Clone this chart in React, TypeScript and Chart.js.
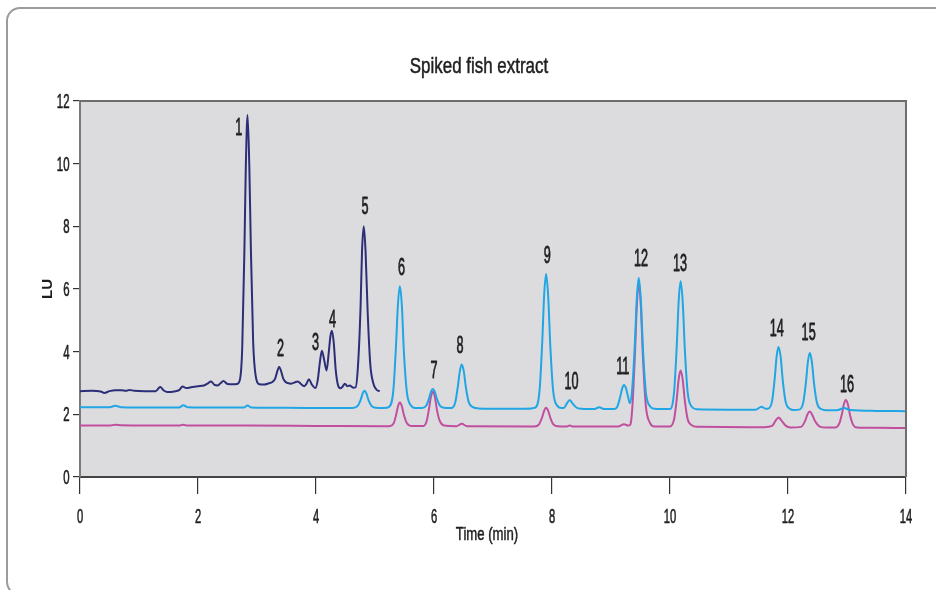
import React, { useEffect, useRef } from "react";
import { Chart, registerables } from "chart.js";

Chart.register(...registerables);

// ---- data (time in min, signal in LU) ----
const chartTitle = "Spiked fish extract";
const xAxisTitle = "Time (min)";
const yAxisTitle = "LU";

const navyTrace: [number, number][] = [
  [0, 2.74], [0.2, 2.75], [0.35, 2.73], [0.41, 2.68], [0.5, 2.74], [0.6, 2.77], [0.7, 2.77], [0.78, 2.75],
  [0.84, 2.78], [0.92, 2.75], [1.1, 2.74], [1.28, 2.74], [1.36, 2.87], [1.42, 2.76], [1.48, 2.71], [1.6, 2.73],
  [1.68, 2.77], [1.74, 2.89], [1.8, 2.84], [1.9, 2.87], [2.0, 2.9], [2.1, 2.92], [2.16, 2.98], [2.22, 3.05],
  [2.28, 2.94], [2.33, 2.92], [2.38, 2.99], [2.43, 3.06], [2.5, 2.97], [2.6, 2.96], [2.66, 2.97], [2.71, 3.1],
  [2.75, 4.14], [2.787, 7.28], [2.81, 9.86], [2.84, 11.55], [2.87, 9.9], [2.895, 7.4], [2.935, 4.3], [2.98, 3.2],
  [3.04, 2.96], [3.12, 2.95], [3.2, 2.99], [3.26, 3.03], [3.31, 3.15], [3.345, 3.38], [3.375, 3.52], [3.405, 3.4],
  [3.445, 3.14], [3.5, 3.01], [3.58, 2.98], [3.64, 3.02], [3.69, 3.05], [3.75, 2.96], [3.8, 2.9], [3.84, 2.98],
  [3.88, 3.12], [3.93, 2.95], [3.99, 2.84], [4.03, 3.1], [4.065, 3.65], [4.1, 4.03], [4.14, 3.72], [4.18, 3.4],
  [4.215, 3.95], [4.245, 4.5], [4.27, 4.67], [4.3, 4.3], [4.335, 3.4], [4.37, 2.95], [4.41, 2.83], [4.45, 2.88],
  [4.49, 2.98], [4.53, 2.9], [4.57, 2.92], [4.63, 2.85], [4.67, 2.86], [4.71, 3.5], [4.755, 5.4], [4.78, 7.2],
  [4.81, 8.0], [4.84, 7.2], [4.875, 5.3], [4.92, 3.6], [4.97, 3.0], [5.02, 2.8], [5.08, 2.73],
];

const blueTrace: [number, number][] = [
  [0, 2.23], [0.5, 2.23], [0.6, 2.27], [0.7, 2.23], [1.2, 2.22], [1.68, 2.22], [1.75, 2.29], [1.82, 2.23],
  [2.5, 2.22], [2.78, 2.22], [2.84, 2.28], [2.9, 2.22], [3.5, 2.21], [4.2, 2.2], [4.62, 2.2],
  [4.71, 2.28], [4.76, 2.48], [4.79, 2.66], [4.82, 2.75], [4.855, 2.66], [4.89, 2.45], [4.94, 2.27], [5.01, 2.21],
  [5.15, 2.2], [5.24, 2.24], [5.31, 2.75], [5.355, 4.15], [5.388, 5.48], [5.42, 6.09], [5.455, 5.48], [5.49, 3.98],
  [5.54, 2.71], [5.61, 2.28], [5.68, 2.2], [5.8, 2.2], [5.87, 2.28], [5.915, 2.5], [5.948, 2.72], [5.98, 2.81],
  [6.015, 2.71], [6.052, 2.48], [6.1, 2.28], [6.17, 2.21], [6.29, 2.2], [6.36, 2.38], [6.405, 2.9], [6.438, 3.38],
  [6.47, 3.59], [6.505, 3.37], [6.542, 2.84], [6.59, 2.38], [6.66, 2.23], [6.75, 2.19], [7.2, 2.18], [7.55, 2.18],
  [7.72, 2.22], [7.79, 2.78], [7.835, 4.33], [7.868, 5.84], [7.9, 6.48], [7.935, 5.78], [7.972, 4.16], [8.02, 2.74],
  [8.09, 2.27], [8.16, 2.2], [8.2, 2.2], [8.25, 2.34], [8.3, 2.46], [8.35, 2.34], [8.42, 2.21], [8.5, 2.18],
  [8.72, 2.17], [8.8, 2.23], [8.88, 2.17], [9.05, 2.17], [9.1, 2.22], [9.155, 2.55], [9.19, 2.83], [9.22, 2.94],
  [9.255, 2.83], [9.29, 2.55], [9.32, 2.36], [9.36, 2.83], [9.405, 4.28], [9.438, 5.73], [9.47, 6.35], [9.505, 5.68],
  [9.542, 4.08], [9.59, 2.72], [9.66, 2.26], [9.74, 2.18], [10.0, 2.17], [10.07, 2.73], [10.115, 4.21], [10.148, 5.64],
  [10.18, 6.25], [10.215, 5.6], [10.252, 4.05], [10.3, 2.69], [10.37, 2.24], [10.45, 2.16], [11.0, 2.15], [11.45, 2.15],
  [11.55, 2.24], [11.62, 2.18], [11.66, 2.18], [11.73, 2.42], [11.775, 3.15], [11.808, 3.86], [11.84, 4.15],
  [11.875, 3.84], [11.912, 3.07], [11.96, 2.4], [12.03, 2.18], [12.1, 2.14], [12.19, 2.15], [12.26, 2.39],
  [12.305, 3.04], [12.338, 3.69], [12.37, 3.96], [12.405, 3.67], [12.442, 2.97], [12.49, 2.37], [12.56, 2.17],
  [12.65, 2.13], [12.85, 2.14], [12.95, 2.2], [13.05, 2.14], [13.5, 2.11], [14, 2.1],
];

const magentaTrace: [number, number][] = [
  [0, 1.64], [0.5, 1.64], [0.6, 1.67], [0.7, 1.65], [1.68, 1.64], [1.75, 1.67], [1.82, 1.64], [2.84, 1.64],
  [4.0, 1.63], [5.2, 1.62], [5.26, 1.63], [5.32, 1.73], [5.36, 2.0], [5.39, 2.26], [5.42, 2.38], [5.455, 2.26],
  [5.49, 1.98], [5.54, 1.72], [5.61, 1.63], [5.82, 1.63], [5.875, 1.78], [5.915, 2.17], [5.948, 2.56], [5.98, 2.72],
  [6.015, 2.55], [6.052, 2.12], [6.1, 1.78], [6.17, 1.64], [6.38, 1.62], [6.47, 1.7], [6.56, 1.62], [7.7, 1.61],
  [7.78, 1.68], [7.835, 1.92], [7.868, 2.12], [7.9, 2.21], [7.935, 2.11], [7.972, 1.89], [8.02, 1.69], [8.1, 1.62],
  [8.24, 1.61], [8.3, 1.64], [8.36, 1.61], [9.12, 1.61], [9.22, 1.68], [9.3, 1.64], [9.33, 1.68], [9.36, 2.18],
  [9.405, 3.88], [9.438, 5.48], [9.47, 6.2], [9.505, 5.48], [9.542, 3.78], [9.59, 2.28], [9.66, 1.73], [9.74, 1.61],
  [10.0, 1.61], [10.07, 1.85], [10.115, 2.5], [10.148, 3.13], [10.18, 3.4], [10.215, 3.11], [10.252, 2.43],
  [10.3, 1.84], [10.37, 1.65], [10.45, 1.6], [11.6, 1.59], [11.73, 1.63], [11.79, 1.8], [11.84, 1.9], [11.89, 1.8],
  [11.96, 1.64], [12.04, 1.58], [12.22, 1.6], [12.29, 1.79], [12.33, 2.0], [12.37, 2.09], [12.41, 1.99], [12.46, 1.78],
  [12.54, 1.61], [12.65, 1.58], [12.8, 1.58], [12.87, 1.71], [12.915, 2.02], [12.948, 2.33], [12.98, 2.46],
  [13.015, 2.32], [13.052, 1.97], [13.1, 1.68], [13.17, 1.58], [13.5, 1.57], [14, 1.56],
];

const peakNumbers = ["1", "2", "3", "4", "5", "6", "7", "8", "9", "10", "11", "12", "13", "14", "15", "16"];
const peakLabelTimes = [2.69, 3.4, 3.99, 4.28, 4.83, 5.45, 6.0, 6.44, 7.92, 8.33, 9.2, 9.51, 10.17, 11.81, 12.35, 13.0];
const peakLabelLU = [11.17, 4.11, 4.31, 5.05, 8.66, 6.72, 3.43, 4.23, 7.1, 3.06, 3.56, 6.99, 6.85, 4.77, 4.63, 2.96];

const xMin = 0;
const xMax = 14;
const xStep = 2;
const yMin = 0;
const yMax = 12;
const yStep = 2;

const FONT = '"Liberation Sans", Arial, sans-serif';
const TEXT = "#1e1e1e";

function drawText(
  ctx: CanvasRenderingContext2D,
  s: string,
  x: number,
  y: number,
  size: number,
  sx: number,
  align: CanvasTextAlign,
  weight = "normal",
  rot = 0,
  thicken = 0.6
) {
  ctx.save();
  ctx.translate(x, y);
  if (rot) ctx.rotate(rot);
  ctx.scale(sx, 1);
  ctx.font = `${weight} ${size}px ${FONT}`;
  ctx.fillStyle = TEXT;
  ctx.strokeStyle = TEXT;
  ctx.lineWidth = thicken;
  ctx.lineJoin = "round";
  ctx.textAlign = align;
  ctx.textBaseline = "alphabetic";
  ctx.fillText(s, 0, 0);
  if (thicken > 0) ctx.strokeText(s, 0, 0);
  ctx.restore();
}

const decorPlugin = {
  id: "decor",
  beforeDraw(chart: any) {
    const { ctx, chartArea: a } = chart;
    ctx.save();
    ctx.fillStyle = "#dcdcdf";
    ctx.fillRect(a.left, a.top, a.right - a.left, a.bottom - a.top);
    ctx.restore();
  },
  afterDraw(chart: any) {
    const { ctx, chartArea: a, scales } = chart;
    const xs = scales.x;
    const ys = scales.y;
    // top & right frame
    ctx.save();
    ctx.strokeStyle = "#6e6e6e";
    ctx.lineWidth = 2;
    ctx.beginPath();
    ctx.moveTo(a.left, a.top);
    ctx.lineTo(a.right, a.top);
    ctx.lineTo(a.right, a.bottom);
    ctx.stroke();
    ctx.restore();

    // title
    drawText(ctx, chartTitle, 479, 73, 22, 0.77, "center", "normal", 0, 0.5);
    // x tick labels
    xs.ticks.forEach((t: any) => {
      const px = xs.getPixelForValue(t.value);
      drawText(ctx, String(t.value), px, a.bottom + 45.5, 20, 0.56, "center");
    });
    // y tick labels
    ys.ticks.forEach((t: any) => {
      const py = ys.getPixelForValue(t.value);
      drawText(ctx, String(t.value), a.left - 10.5, py + 7, 20, 0.57, "right");
    });
    // axis titles
    drawText(ctx, xAxisTitle, (a.left + a.right) / 2 - 6, a.bottom + 63, 18, 0.73, "center", "normal", 0, 0.5);
    drawText(ctx, yAxisTitle, 52, (a.top + a.bottom) / 2, 14, 1.07, "center", "bold", -Math.PI / 2, 0);
    // peak numbers
    peakNumbers.forEach((n, i) => {
      const px = xs.getPixelForValue(peakLabelTimes[i]);
      const py = ys.getPixelForValue(peakLabelLU[i]);
      drawText(ctx, n, px, py + 8.2, 23, 0.55, "center", "normal", 0, 0.8);
    });
  },
};

function toXY(arr: [number, number][]) {
  return arr.map(([x, y]) => ({ x, y }));
}

export default function App() {
  const ref = useRef<HTMLCanvasElement | null>(null);

  useEffect(() => {
    if (!ref.current) return;
    const chart = new Chart(ref.current, {
      type: "line",
      data: {
        datasets: [
          { label: "A", data: toXY(navyTrace), borderColor: "#2c2e78", borderWidth: 2, pointRadius: 0, cubicInterpolationMode: "monotone" },
          { label: "B", data: toXY(blueTrace), borderColor: "#20a6e4", borderWidth: 2, pointRadius: 0, cubicInterpolationMode: "monotone" },
          { label: "C", data: toXY(magentaTrace), borderColor: "#c14f9f", borderWidth: 2, pointRadius: 0, cubicInterpolationMode: "monotone" },
        ],
      },
      options: {
        responsive: false,
        animation: false,
        parsing: false as any,
        layout: { padding: { left: 0, right: 30, top: 101, bottom: 0 } },
        plugins: { legend: { display: false }, title: { display: false }, tooltip: { enabled: false } },
        scales: {
          x: {
            type: "linear",
            min: xMin,
            max: xMax,
            ticks: { stepSize: xStep, display: false },
            grid: { display: true, drawOnChartArea: false, drawTicks: true, tickLength: 17, color: "#333", lineWidth: 1.2 },
            border: { display: true, color: "#444", width: 2 },
            afterFit: (s: any) => { s.height = 113; },
          },
          y: {
            type: "linear",
            min: yMin,
            max: yMax,
            ticks: { stepSize: yStep, display: false },
            grid: { display: true, drawOnChartArea: false, drawTicks: true, tickLength: 7, color: "#333", lineWidth: 1.2 },
            border: { display: true, color: "#7a7a7a", width: 2 },
            afterFit: (s: any) => { s.width = 80; },
          },
        },
      },
      plugins: [decorPlugin],
    });
    return () => chart.destroy();
  }, []);

  return (
    <div style={{ position: "fixed", left: 0, top: 0, width: 936, height: 590, overflow: "hidden", background: "#fff" }}>
      <div
        style={{
          position: "absolute",
          left: 6,
          top: 7,
          width: 1000,
          height: 589,
          border: "2px solid #9c9c9c",
          borderRadius: 14,
          boxSizing: "border-box",
        }}
      />
      <canvas ref={ref} width={936} height={590} style={{ position: "absolute", left: 0, top: 0, width: 936, height: 590 }} />
    </div>
  );
}
